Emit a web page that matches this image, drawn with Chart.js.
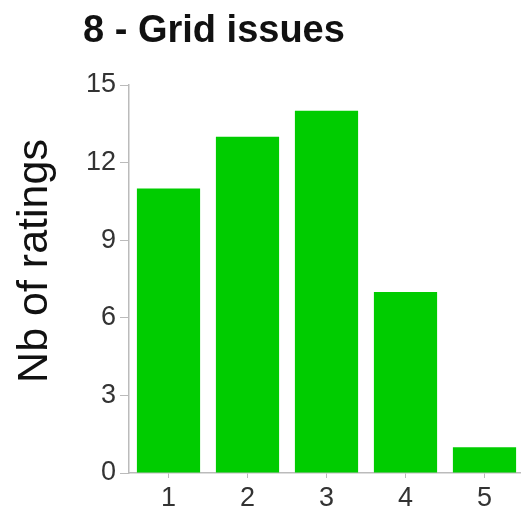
<!DOCTYPE html>
<html>
<head>
<meta charset="utf-8">
<script src="https://cdn.jsdelivr.net/npm/chart.js@4"></script>
<style>
    html, body { margin: 0; padding: 0; background: #fff; overflow: hidden; }
    #wrap { width: 524px; height: 511px; }
</style>
</head>
<body>
<div id="wrap"><canvas id="ratings-chart" width="524" height="511"></canvas></div>
<script>
const categories = ['1', '2', '3', '4', '5'];
const ratingCounts = [11, 13, 14, 7, 1];
const yTicks = [0, 3, 6, 9, 12, 15];

const chartTitle = '8 - Grid issues';
const yAxisTitle = 'Nb of ratings';

// title and rotated axis label, placed like the original figure
const textLabels = {
    id: 'textLabels',
    afterDraw(chart) {
        const ctx = chart.ctx;
        ctx.save();
        ctx.fillStyle = '#111';
        ctx.font = 'bold 38px "Liberation Sans", Arial, sans-serif';
        ctx.textAlign = 'left';
        ctx.textBaseline = 'alphabetic';
        ctx.fillText(chartTitle, 83, 42);

        ctx.translate(47, 261);
        ctx.rotate(-Math.PI / 2);
        ctx.font = '43px "Liberation Sans", Arial, sans-serif';
        ctx.textAlign = 'center';
        ctx.fillText(yAxisTitle, 0, 0);
        ctx.restore();
    }
};

const tickFont = { family: '"Liberation Sans", Arial, sans-serif', size: 27 };

new Chart(document.getElementById('ratings-chart'), {
    type: 'bar',
    data: {
        labels: categories,
        datasets: [{
            data: ratingCounts,
            backgroundColor: '#00cc00',
            borderWidth: 0,
            barPercentage: 0.8,
            categoryPercentage: 1.0
        }]
    },
    options: {
        responsive: false,
        animation: false,
        layout: { padding: { top: 85, left: 0, right: 0, bottom: 0 } },
        plugins: {
            legend: { display: false },
            tooltip: { enabled: false }
        },
        scales: {
            x: {
                afterFit: s => { s.height = 38; },
                grid: { display: true, drawOnChartArea: false, offset: false, tickLength: 5, color: '#bbb' },
                border: { color: '#bbb', width: 1.5 },
                ticks: { padding: 4, color: '#333', font: tickFont }
            },
            y: {
                min: 0,
                max: 15,
                afterFit: s => { s.width = 129; },
                afterBuildTicks: s => { s.ticks = yTicks.map(v => ({ value: v })); },
                grid: { display: true, drawOnChartArea: false, tickLength: 9, color: '#bbb' },
                border: { color: '#bbb', width: 1.5 },
                ticks: { padding: 4, color: '#333', font: tickFont }
            }
        }
    },
    plugins: [textLabels]
});
</script>
</body>
</html>
